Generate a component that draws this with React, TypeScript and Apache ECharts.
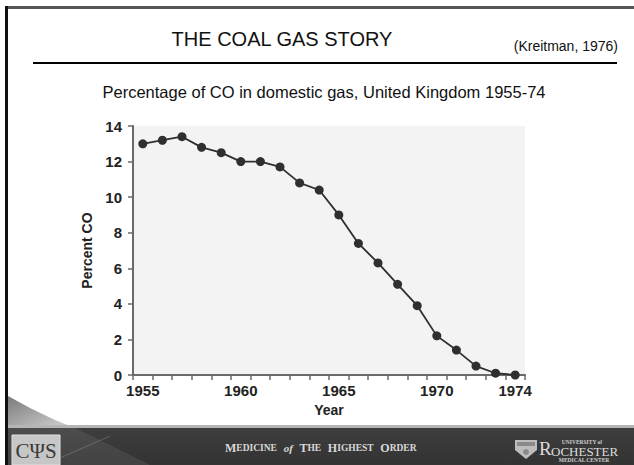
import React, { useEffect, useRef } from "react";
import * as echarts from "echarts";

// Percentage of CO in UK domestic gas, 1955-74
const years: string[] = [
  "1955", "1956", "1957", "1958", "1959", "1960", "1961", "1962", "1963", "1964",
  "1965", "1966", "1967", "1968", "1969", "1970", "1971", "1972", "1973", "1974",
];
const percentCO: number[] = [
  13.0, 13.2, 13.4, 12.8, 12.5, 12.0, 12.0, 11.7, 10.8, 10.4,
  9.0, 7.4, 6.3, 5.1, 3.9, 2.2, 1.4, 0.5, 0.1, 0.0,
];
const labelledYears: string[] = ["1955", "1960", "1965", "1970", "1974"];

const SANS = "'Liberation Sans', Arial, Helvetica, sans-serif";
const SERIF = "'Liberation Serif', 'Times New Roman', serif";

export default function App() {
  const ref = useRef<HTMLDivElement>(null);

  useEffect(() => {
    if (!ref.current) return;
    const chart = echarts.init(ref.current, null, { renderer: "svg" });

    const footerText = {
      type: "text",
      left: 225,
      top: 442,
      style: {
        text: "{b|M}{s|EDICINE}  {i|of}  {b|T}{s|HE}  {b|H}{s|IGHEST}  {b|O}{s|RDER}",
        rich: {
          b: { fontFamily: SERIF, fontSize: 12, fill: "#d8d8d8", fontWeight: "bold" },
          s: { fontFamily: SERIF, fontSize: 9.5, fill: "#d8d8d8", fontWeight: "bold" },
          i: { fontFamily: SERIF, fontSize: 11, fill: "#d8d8d8", fontStyle: "italic", fontWeight: "bold" },
        },
      },
    };

    chart.setOption({
      animation: false,
      backgroundColor: "#ffffff",
      grid: {
        left: 133,
        right: 109,
        top: 126,
        bottom: 90,
        show: true,
        backgroundColor: "#f3f3f3",
        borderWidth: 0,
      },
      xAxis: {
        type: "category",
        data: years,
        boundaryGap: true,
        name: "Year",
        nameLocation: "middle",
        nameGap: 28,
        nameTextStyle: { fontFamily: SANS, fontSize: 14, fontWeight: "bold", color: "#222" },
        axisLine: { lineStyle: { color: "#6a6a6a", width: 2 } },
        axisTick: { show: true, interval: 0, length: 5, lineStyle: { color: "#6a6a6a", width: 1.5 } },
        axisLabel: {
          interval: 0,
          margin: 8,
          fontFamily: SANS,
          fontSize: 15,
          fontWeight: "bold",
          color: "#222",
          formatter: (v: string) => (labelledYears.includes(v) ? v : ""),
        },
        splitLine: { show: false },
      },
      yAxis: {
        type: "value",
        min: 0,
        max: 14,
        interval: 2,
        name: "Percent CO",
        nameLocation: "middle",
        nameGap: 34,
        nameTextStyle: { fontFamily: SANS, fontSize: 14, fontWeight: "bold", color: "#222" },
        axisLine: { show: true, lineStyle: { color: "#6a6a6a", width: 2 } },
        axisTick: { show: true, length: 5, lineStyle: { color: "#6a6a6a", width: 1.5 } },
        axisLabel: { margin: 11, fontFamily: SANS, fontSize: 15, fontWeight: "bold", color: "#222" },
        splitLine: { show: false },
      },
      series: [
        {
          type: "line",
          data: percentCO,
          symbol: "circle",
          symbolSize: 9,
          itemStyle: { color: "#2f2f2f" },
          lineStyle: { color: "#2f2f2f", width: 1.8 },
        },
      ],
      graphic: [
        // slide frame
        { type: "rect", shape: { x: 5, y: 6, width: 629, height: 3 }, style: { fill: "#555" } },
        { type: "rect", shape: { x: 5, y: 6, width: 3, height: 459 }, style: { fill: "#111" } },
        // heading
        {
          type: "text",
          x: 282,
          y: 39,
          style: {
            text: "THE COAL GAS STORY",
            fontFamily: SANS,
            fontSize: 20,
            fill: "#111",
            align: "center",
            verticalAlign: "middle",
          },
        },
        {
          type: "text",
          x: 618,
          y: 46,
          style: {
            text: "(Kreitman, 1976)",
            fontFamily: SANS,
            fontSize: 14,
            fill: "#111",
            align: "right",
            verticalAlign: "middle",
          },
        },
        { type: "line", shape: { x1: 33, y1: 63, x2: 617, y2: 63 }, style: { stroke: "#000", lineWidth: 2 } },
        {
          type: "text",
          x: 324,
          y: 92,
          style: {
            text: "Percentage of CO in domestic gas, United Kingdom 1955-74",
            fontFamily: SANS,
            fontSize: 16.5,
            fill: "#111",
            align: "center",
            verticalAlign: "middle",
          },
        },
        // footer swoosh above the band
        {
          type: "polygon",
          shape: { points: [[8, 396], [30, 408], [55, 420], [75, 428], [8, 428]] },
          style: {
            fill: new echarts.graphic.LinearGradient(0, 0, 1, 1, [
              { offset: 0, color: "#7a7a7a" },
              { offset: 1, color: "#d6d6d6" },
            ]),
          },
        },
        // footer band
        { type: "rect", shape: { x: 8, y: 425, width: 626, height: 3 }, style: { fill: "#b5b5b5" } },
        {
          type: "rect",
          shape: { x: 8, y: 428, width: 626, height: 37 },
          style: {
            fill: new echarts.graphic.LinearGradient(0, 0, 0, 1, [
              { offset: 0, color: "#3e3e3e" },
              { offset: 1, color: "#333333" },
            ]),
          },
        },
        {
          type: "polygon",
          shape: { points: [[8, 428], [75, 428], [110, 445], [150, 465], [8, 465]] },
          style: { fill: "rgba(255,255,255,0.08)" },
        },
        { type: "line", shape: { x1: 60, y1: 458, x2: 110, y2: 436 }, style: { stroke: "rgba(255,255,255,0.18)", lineWidth: 1 } },
        // CSPS badge
        { type: "rect", shape: { x: 12, y: 435, width: 48, height: 30 }, style: { fill: "#c6c6c6", stroke: "#e0e0e0", lineWidth: 1 } },
        {
          type: "text",
          x: 36,
          y: 451,
          style: {
            text: "CΨS",
            fontFamily: SERIF,
            fontSize: 21,
            fill: "#3a3a3a",
            align: "center",
            verticalAlign: "middle",
          },
        },
        footerText,
        // Rochester shield
        {
          type: "polygon",
          shape: { points: [[515, 440], [537, 440], [537, 450], [526, 459], [515, 450]] },
          style: { fill: "#bdbdbd" },
        },
        { type: "rect", shape: { x: 517, y: 442, width: 18, height: 4 }, style: { fill: "#8a8a8a" } },
        { type: "circle", shape: { cx: 526, cy: 452, r: 3 }, style: { fill: "#8a8a8a" } },
        {
          type: "text",
          x: 539,
          y: 456,
          style: {
            text: "R",
            fontFamily: SERIF,
            fontSize: 19,
            lineHeight: 15,
            fill: "#dcdcdc",
            align: "left",
            verticalAlign: "bottom",
          },
        },
        {
          type: "text",
          x: 551,
          y: 456,
          style: {
            text: "OCHESTER",
            fontFamily: SERIF,
            fontSize: 13,
            lineHeight: 10,
            fill: "#dcdcdc",
            align: "left",
            verticalAlign: "bottom",
          },
        },
        {
          type: "text",
          x: 582,
          y: 442,
          style: {
            text: "UNIVERSITY of",
            fontFamily: SERIF,
            fontSize: 5.5,
            lineHeight: 5,
            fontWeight: "bold",
            fill: "#d0d0d0",
            align: "center",
            verticalAlign: "middle",
          },
        },
        {
          type: "text",
          x: 584,
          y: 460,
          style: {
            text: "MEDICAL CENTER",
            fontFamily: SERIF,
            fontSize: 5.5,
            lineHeight: 5,
            fontWeight: "bold",
            fill: "#d0d0d0",
            align: "center",
            verticalAlign: "middle",
          },
        },
      ],
    });

    return () => chart.dispose();
  }, []);

  return (
    <div
      ref={ref}
      style={{ position: "fixed", left: 0, top: 0, width: 634, height: 465 }}
    />
  );
}
